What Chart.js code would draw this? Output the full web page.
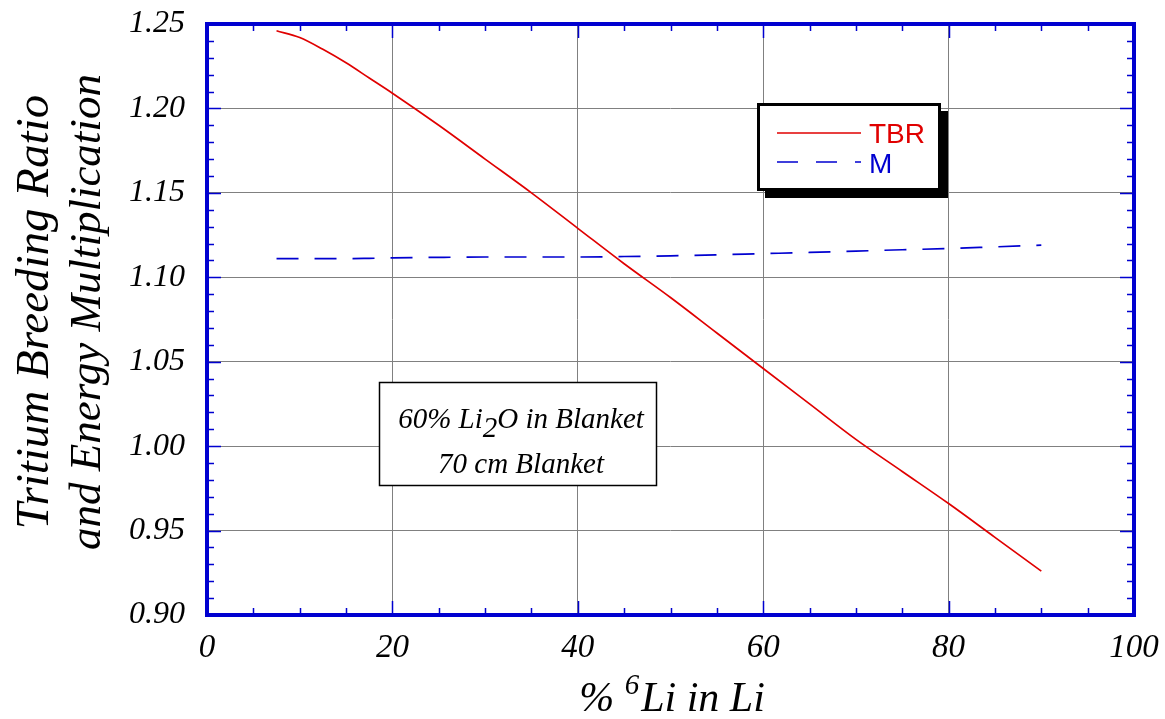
<!DOCTYPE html>
<html>
<head>
<meta charset="utf-8">
<script src="https://cdn.jsdelivr.net/npm/chart.js@4/dist/chart.umd.min.js"></script>
<style>
  html, body { margin: 0; padding: 0; background: #fff; }
  #wrap { width: 1165px; height: 719px; }
</style>
</head>
<body>
<div id="wrap"><canvas id="chart" width="1165" height="719"></canvas></div>
<script>
const li6Pct = [7.5, 10, 12.5, 15, 17.5, 20, 25, 30, 35, 40, 45, 50, 55, 60, 65, 70, 75, 80, 85, 90];
const tbrValues = [1.246, 1.242, 1.235, 1.227, 1.218, 1.209, 1.190, 1.170, 1.150, 1.129, 1.108, 1.088, 1.067, 1.046, 1.025, 1.004, 0.985, 0.966, 0.946, 0.926];
const mValues = [1.111, 1.111, 1.111, 1.111, 1.1112, 1.1115, 1.1118, 1.112, 1.112, 1.112, 1.1123, 1.1127, 1.1133, 1.114, 1.1147, 1.1155, 1.1163, 1.117, 1.118, 1.119];

const RED = "#e00000";
const BLUE = "#0000d0";
const SERIF = "'Liberation Serif', 'Times New Roman', serif";
const SANS = "'Liberation Sans', Arial, sans-serif";

const toPoints = (ys) => li6Pct.map((x, i) => ({ x, y: ys[i] }));

const frame = {
  id: "frame",
  beforeDatasetsDraw(chart) {
    const { ctx, chartArea: a, scales } = chart;
    ctx.save();
    ctx.strokeStyle = BLUE;
    ctx.lineWidth = 1.5;
    ctx.beginPath();
    for (let v = 0; v <= 100; v += 5) {
      const px = Math.round(scales.x.getPixelForValue(v)) + 0.5;
      const len = v % 20 === 0 ? 14 : 7;
      ctx.moveTo(px, a.bottom); ctx.lineTo(px, a.bottom - len);
      ctx.moveTo(px, a.top); ctx.lineTo(px, a.top + len);
    }
    for (let i = 0; i <= 35; i++) {
      const v = 0.9 + i * 0.01;
      const py = Math.round(scales.y.getPixelForValue(v)) + 0.5;
      const len = i % 5 === 0 ? 14 : 7;
      ctx.moveTo(a.left, py); ctx.lineTo(a.left + len, py);
      ctx.moveTo(a.right, py); ctx.lineTo(a.right - len, py);
    }
    ctx.stroke();
    ctx.restore();
  },
  afterDraw(chart) {
    const { ctx, chartArea: a } = chart;
    ctx.save();
    // axis frame
    ctx.strokeStyle = BLUE;
    ctx.lineWidth = 4;
    ctx.strokeRect(a.left, a.top, a.right - a.left, a.bottom - a.top);

    // legend box with shadow
    ctx.fillStyle = "#000";
    ctx.fillRect(765, 111, 183, 87);
    ctx.fillStyle = "#fff";
    ctx.fillRect(758, 104, 182, 86);
    ctx.strokeStyle = "#000";
    ctx.lineWidth = 3;
    ctx.strokeRect(758.5, 104.5, 181, 85);

    ctx.lineWidth = 1.6;
    ctx.strokeStyle = RED;
    ctx.beginPath(); ctx.moveTo(777, 133); ctx.lineTo(861, 133); ctx.stroke();
    ctx.strokeStyle = BLUE;
    ctx.setLineDash([21, 18]);
    ctx.beginPath(); ctx.moveTo(777, 162); ctx.lineTo(861, 162); ctx.stroke();
    ctx.setLineDash([]);
    ctx.font = `28px ${SANS}`;
    ctx.textBaseline = "alphabetic";
    ctx.textAlign = "left";
    ctx.fillStyle = RED;
    ctx.fillText("TBR", 869, 143);
    ctx.fillStyle = BLUE;
    ctx.fillText("M", 869, 173);

    // annotation box
    ctx.fillStyle = "#fff";
    ctx.fillRect(379, 382, 278, 104);
    ctx.strokeStyle = "#000";
    ctx.lineWidth = 1.5;
    ctx.strokeRect(379.5, 382.5, 277, 103);
    ctx.fillStyle = "#000";
    ctx.font = `italic 29px ${SERIF}`;
    const parts = ["60% Li", "2", "O in Blanket"];
    const w0 = ctx.measureText(parts[0]).width;
    const w1 = ctx.measureText(parts[1]).width;
    const w2 = ctx.measureText(parts[2]).width;
    const sx = 521 - (w0 + w1 + w2) / 2;
    ctx.fillText(parts[0], sx, 428);
    ctx.fillText(parts[1], sx + w0, 437);
    ctx.fillText(parts[2], sx + w0 + w1, 428);
    ctx.textAlign = "center";
    ctx.fillText("70 cm Blanket", 521, 473);

    // x title with superscript
    ctx.textAlign = "left";
    ctx.font = `italic 42px ${SERIF}`;
    const t0 = "% ", t2 = "Li in Li";
    const tw0 = ctx.measureText(t0).width;
    const tw2 = ctx.measureText(t2).width;
    ctx.font = `italic 29px ${SERIF}`;
    const tw1 = ctx.measureText("6").width + 2;
    const tx = 672 - (tw0 + tw1 + tw2) / 2;
    ctx.font = `italic 42px ${SERIF}`;
    ctx.fillText(t0, tx, 711);
    ctx.font = `italic 29px ${SERIF}`;
    ctx.fillText("6", tx + tw0, 694);
    ctx.font = `italic 42px ${SERIF}`;
    ctx.fillText(t2, tx + tw0 + tw1, 711);

    // y title, two rotated lines
    ctx.translate(0, 312);
    ctx.rotate(-Math.PI / 2);
    ctx.textAlign = "center";
    ctx.font = `italic 47px ${SERIF}`;
    ctx.fillText("Tritium Breeding Ratio", 0, 48);
    ctx.font = `italic 45px ${SERIF}`;
    ctx.fillText("and Energy Multiplication", 0, 100);
    ctx.restore();
  },
};

new Chart(document.getElementById("chart"), {
  type: "line",
  data: {
    datasets: [
      { label: "TBR", data: toPoints(tbrValues), borderColor: RED, borderWidth: 1.7, pointRadius: 0, cubicInterpolationMode: "monotone", fill: false },
      { label: "M", data: toPoints(mValues), borderColor: BLUE, borderWidth: 1.7, borderDash: [22, 16], pointRadius: 0, cubicInterpolationMode: "monotone", fill: false },
    ],
  },
  options: {
    responsive: false,
    animation: false,
    layout: { padding: { top: 24, right: 31, left: 0, bottom: 0 } },
    scales: {
      x: {
        type: "linear",
        min: 0,
        max: 100,
        afterFit: (s) => { s.height = 104; s.paddingLeft = 0; s.paddingRight = 0; },
        ticks: { stepSize: 20, color: "#000", padding: 14, maxRotation: 0, font: { family: SERIF, style: "italic", size: 33 } },
        grid: { color: "#808080", lineWidth: 1, drawTicks: false },
        border: { display: false },
      },
      y: {
        min: 0.9,
        max: 1.25,
        afterFit: (s) => { s.width = 207; s.paddingTop = 0; s.paddingBottom = 0; },
        ticks: { stepSize: 0.05, color: "#000", padding: 22, callback: (v) => v.toFixed(2), font: { family: SERIF, style: "italic", size: 32 } },
        grid: { color: "#808080", lineWidth: 1, drawTicks: false },
        border: { display: false },
      },
    },
    plugins: { legend: { display: false }, tooltip: { enabled: false } },
  },
  plugins: [frame],
});
</script>
</body>
</html>
